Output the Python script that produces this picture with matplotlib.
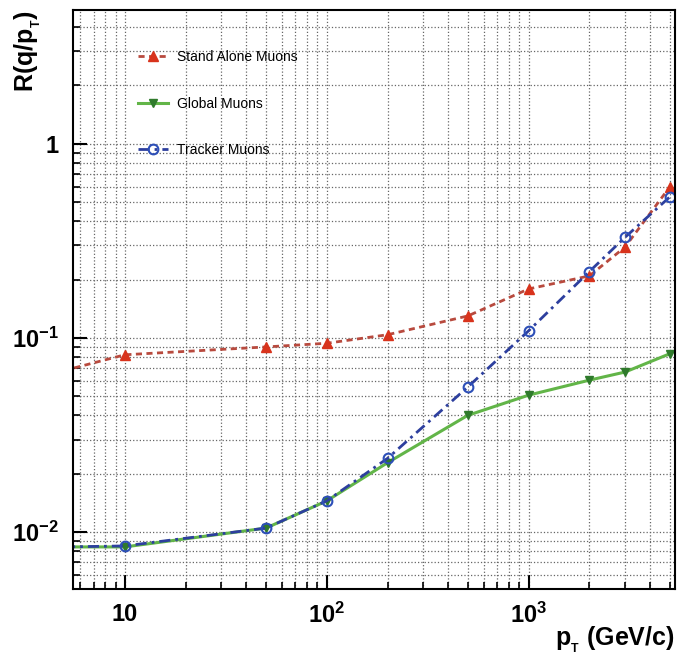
import numpy as np
import matplotlib
matplotlib.use('Agg')
import matplotlib.pyplot as plt
from matplotlib.ticker import LogLocator, NullFormatter, FixedLocator


# Momentum points (GeV/c) and resolution values
pt = [5, 10, 50, 100, 200, 500, 1000, 2000, 3000, 5000]
standalone = [0.068, 0.082, 0.090, 0.094, 0.104, 0.130, 0.179, 0.209, 0.294, 0.60]
global_mu = [0.0084, 0.0084, 0.0105, 0.0145, 0.0228, 0.040, 0.0508, 0.0607, 0.0668, 0.0830]
tracker = [0.0084, 0.0085, 0.0105, 0.0145, 0.0240, 0.056, 0.109, 0.220, 0.330, 0.533]

x_ticks = [10, 100, 1000]
x_tick_labels = ['10', r'$\mathbf{10^{2}}$', r'$\mathbf{10^{3}}$']
y_ticks = [0.01, 0.1, 1]
y_tick_labels = [r'$\mathbf{10^{-2}}$', r'$\mathbf{10^{-1}}$', '1']

plt.rcParams['font.family'] = ['Liberation Sans', 'DejaVu Sans']
plt.rcParams['mathtext.fontset'] = 'custom'
plt.rcParams['mathtext.rm'] = 'Liberation Sans'
plt.rcParams['mathtext.bf'] = 'Liberation Sans:bold'

fig = plt.figure(figsize=(6.81, 6.57), dpi=100)
ax = fig.add_axes([0.107, 0.1035, 0.884, 0.8815])

ax.set_xscale('log')
ax.set_yscale('log')
ax.set_xlim(5.53, 5300)
ax.set_ylim(0.0051, 4.9)

# Grid at every major and minor decade step, ROOT style
ax.grid(True, which='both', color='#666666', linestyle=':', linewidth=0.9)
ax.set_axisbelow(True)

ax.plot(pt, standalone, linestyle=(0, (2.2, 1.6)), color='#b84a3e', lw=2,
        marker='^', ms=7, mfc='#d8331c', mec='#d8331c', label='Stand Alone Muons')
ax.plot(pt, global_mu, linestyle='-', color='#62b548', lw=2.2,
        marker='v', ms=6, mfc='#2f7a2c', mec='#2f7a2c', label='Global Muons')
ax.plot(pt, tracker, linestyle=(0, (4, 1.8, 1, 1.8)), color='#2d3f9e', lw=2,
        marker='o', ms=7, mfc='none', mec='#2d4fb8', mew=1.5, label='Tracker Muons')

# Ticks inside, only on left and bottom
ax.xaxis.set_major_locator(FixedLocator(x_ticks))
ax.yaxis.set_major_locator(FixedLocator(y_ticks))
ax.xaxis.set_minor_locator(LogLocator(base=10, subs=np.arange(2, 10)))
ax.yaxis.set_minor_locator(LogLocator(base=10, subs=np.arange(2, 10)))
ax.xaxis.set_minor_formatter(NullFormatter())
ax.yaxis.set_minor_formatter(NullFormatter())
ax.set_xticklabels(x_tick_labels, fontsize=17, fontweight='bold')
ax.set_yticklabels(y_tick_labels, fontsize=17, fontweight='bold')
ax.tick_params(which='major', direction='in', length=10, width=1.5, pad=10,
               top=False, right=False)
ax.tick_params(which='minor', direction='in', length=5, width=1.2,
               top=False, right=False)
for side in ax.spines.values():
    side.set_linewidth(1.5)

ax.set_xlabel(r'$\mathbf{p_{_T}}$ (GeV/c)', fontsize=18, fontweight='bold')
ax.xaxis.set_label_coords(1.0, -0.088)
ax.xaxis.label.set_horizontalalignment('right')
ax.xaxis.label.set_verticalalignment('center')
ax.set_ylabel(r'R(q/$\mathbf{p_{_T}}$)', fontsize=18, fontweight='bold')
ax.yaxis.set_label_coords(-0.075, 1.0)
ax.yaxis.label.set_horizontalalignment('right')
ax.yaxis.label.set_verticalalignment('center')

leg = ax.legend(loc='upper left', bbox_to_anchor=(0.095, 0.945), frameon=False,
                fontsize=10, labelspacing=2.35, handlelength=2.1, handletextpad=0.7,
                borderaxespad=0.2)

fig.savefig('out.png', dpi=100)
